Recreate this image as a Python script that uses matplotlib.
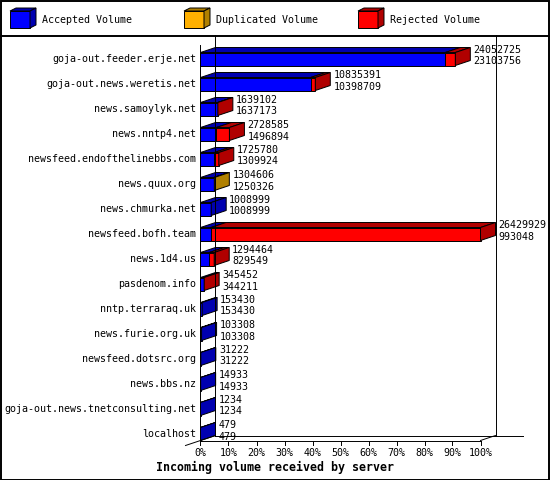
import numpy as np
import matplotlib
matplotlib.use("Agg")
import matplotlib.pyplot as plt
from matplotlib.patches import Polygon

# data
servers = ["goja-out.feeder.erje.net", "goja-out.news.weretis.net", "news.samoylyk.net",
           "news.nntp4.net", "newsfeed.endofthelinebbs.com", "news.quux.org",
           "news.chmurka.net", "newsfeed.bofh.team", "news.1d4.us", "pasdenom.info",
           "nntp.terraraq.uk", "news.furie.org.uk", "newsfeed.dotsrc.org", "news.bbs.nz",
           "goja-out.news.tnetconsulting.net", "localhost"]
total = [24052725, 10835391, 1639102, 2728585, 1725780, 1304606, 1008999, 26429929,
         1294464, 345452, 153430, 103308, 31222, 14933, 1234, 479]
accepted = [23103756, 10398709, 1637173, 1496894, 1309924, 1250326, 1008999, 993048,
            829549, 344211, 153430, 103308, 31222, 14933, 1234, 479]
duplicated = [0, 0, 0, 0, 0, 54280, 0, 0, 0, 0, 0, 0, 0, 0, 0, 0]
rejected = [948969, 436682, 1929, 1231691, 415856, 0, 0, 25436881, 464915, 1241,
            0, 0, 0, 0, 0, 0]

series = ["Accepted Volume", "Duplicated Volume", "Rejected Volume"]
front_col = ["#0000ff", "#ffb000", "#ff0000"]
side_col = ["#0000b0", "#b08000", "#b00000"]
tick_pct = np.arange(0, 101, 10)

W, H = 550, 480
X0 = 200.5          # pixel of 0 %
PXPCT = 2.8         # pixels per percent
ROW0, ROWSTEP = 59, 25
DX = 15 / PXPCT     # 3d depth in data units
DY = 5 / ROWSTEP
HALF = 6.5 / ROWSTEP
FONT = "DejaVu Sans Mono"
LW = 0.7

fig = plt.figure(figsize=(W / 100, H / 100), dpi=100)
ax = fig.add_axes([0, 0, 1, 1])
ax.set_xlim(-X0 / PXPCT, (W - X0) / PXPCT)
ax.set_ylim((H - ROW0) / ROWSTEP, -ROW0 / ROWSTEP)
ax.axis("off")


def box(a, x1, x2, yc, hh, dx, dy, fc, sc, side=True):
    kw = dict(closed=True, ec="black", lw=LW, joinstyle="miter")
    a.add_patch(Polygon([(x1, yc - hh), (x1 + dx, yc - hh - dy), (x2 + dx, yc - hh - dy),
                         (x2, yc - hh)], fc=sc, **kw))
    a.add_patch(Polygon([(x1, yc - hh), (x2, yc - hh), (x2, yc + hh), (x1, yc + hh)],
                        fc=fc, **kw))
    if side:
        a.add_patch(Polygon([(x2, yc - hh), (x2 + dx, yc - hh - dy), (x2 + dx, yc + hh - dy),
                             (x2, yc + hh)], fc=sc, **kw))


n = len(servers)
floor = n - 1 + HALF
top_row = -0.56

# walls and floor
ax.plot([DX, DX], [(35 - ROW0) / ROWSTEP, floor - DY], color="black", lw=LW)
ax.plot([100 + DX, 100 + DX], [(35 - ROW0) / ROWSTEP, floor - DY], color="black", lw=LW)
ax.plot([DX, 115], [floor - DY, floor - DY], color="black", lw=LW)
ax.plot([0, 0], [top_row, floor], color="black", lw=LW)
ax.plot([0, 100], [floor, floor], color="black", lw=LW)
ax.plot([-DX, DX], [floor + DY, floor - DY], color="black", lw=LW)
ax.plot([100, 100 + DX], [floor, floor - DY], color="black", lw=LW)
for t in tick_pct:
    ax.plot([t, t], [floor, floor + 4 / ROWSTEP], color="black", lw=LW)
    ax.text(t, floor + 12 / ROWSTEP, f"{t}%", ha="center", va="center",
            family=FONT, fontsize=7.2)

vmax = max(total)
for i, name in enumerate(servers):
    segs = [accepted[i], duplicated[i], rejected[i]]
    pct = [v / vmax * 100 for v in segs]
    last = max(k for k in range(3) if segs[k] > 0)
    left = 0
    for k in range(3):
        if segs[k] == 0:
            continue
        box(ax, left, left + pct[k], i, HALF, DX, DY, front_col[k], side_col[k],
            side=(k == last))
        left += pct[k]
    end = total[i] / vmax * 100
    ax.text(-4.5 / PXPCT, i, name, ha="right", va="center", family=FONT, fontsize=7.2)
    ax.text(end + DX + 3 / PXPCT, i - 9 / ROWSTEP, str(total[i]), ha="left",
            va="center", family=FONT, fontsize=7.2)
    ax.text(end + DX + 3 / PXPCT, i + 2.5 / ROWSTEP, str(accepted[i]), ha="left",
            va="center", family=FONT, fontsize=7.2)

ax.text((W / 2 - X0) / PXPCT, floor + 27 / ROWSTEP, "Incoming volume received by server",
        ha="center", va="center", family=FONT, fontsize=8.4, fontweight="bold")

# legend strip
lg = fig.add_axes([0, 1 - 35 / H, 1, 35 / H])
lg.set_xlim(0, W)
lg.set_ylim(35, 0)
lg.axis("off")
for k, lab in enumerate(series):
    x = 10 + 174 * k
    box(lg, x, x + 20, 19.5, 8.5, 6, 3, front_col[k], side_col[k])
    lg.text(x + 32, 20, lab, ha="left", va="center", family=FONT, fontsize=7.2)

fig.add_artist(plt.Line2D([0, 1], [1 - 35.5 / H, 1 - 35.5 / H], color="black", lw=1.4))
fig.add_artist(plt.Rectangle((0.5 / W, 0.5 / H), 1 - 1.5 / W, 1 - 1.5 / H, fill=False,
                             ec="black", lw=1.4))

fig.savefig("out.png", dpi=100)
